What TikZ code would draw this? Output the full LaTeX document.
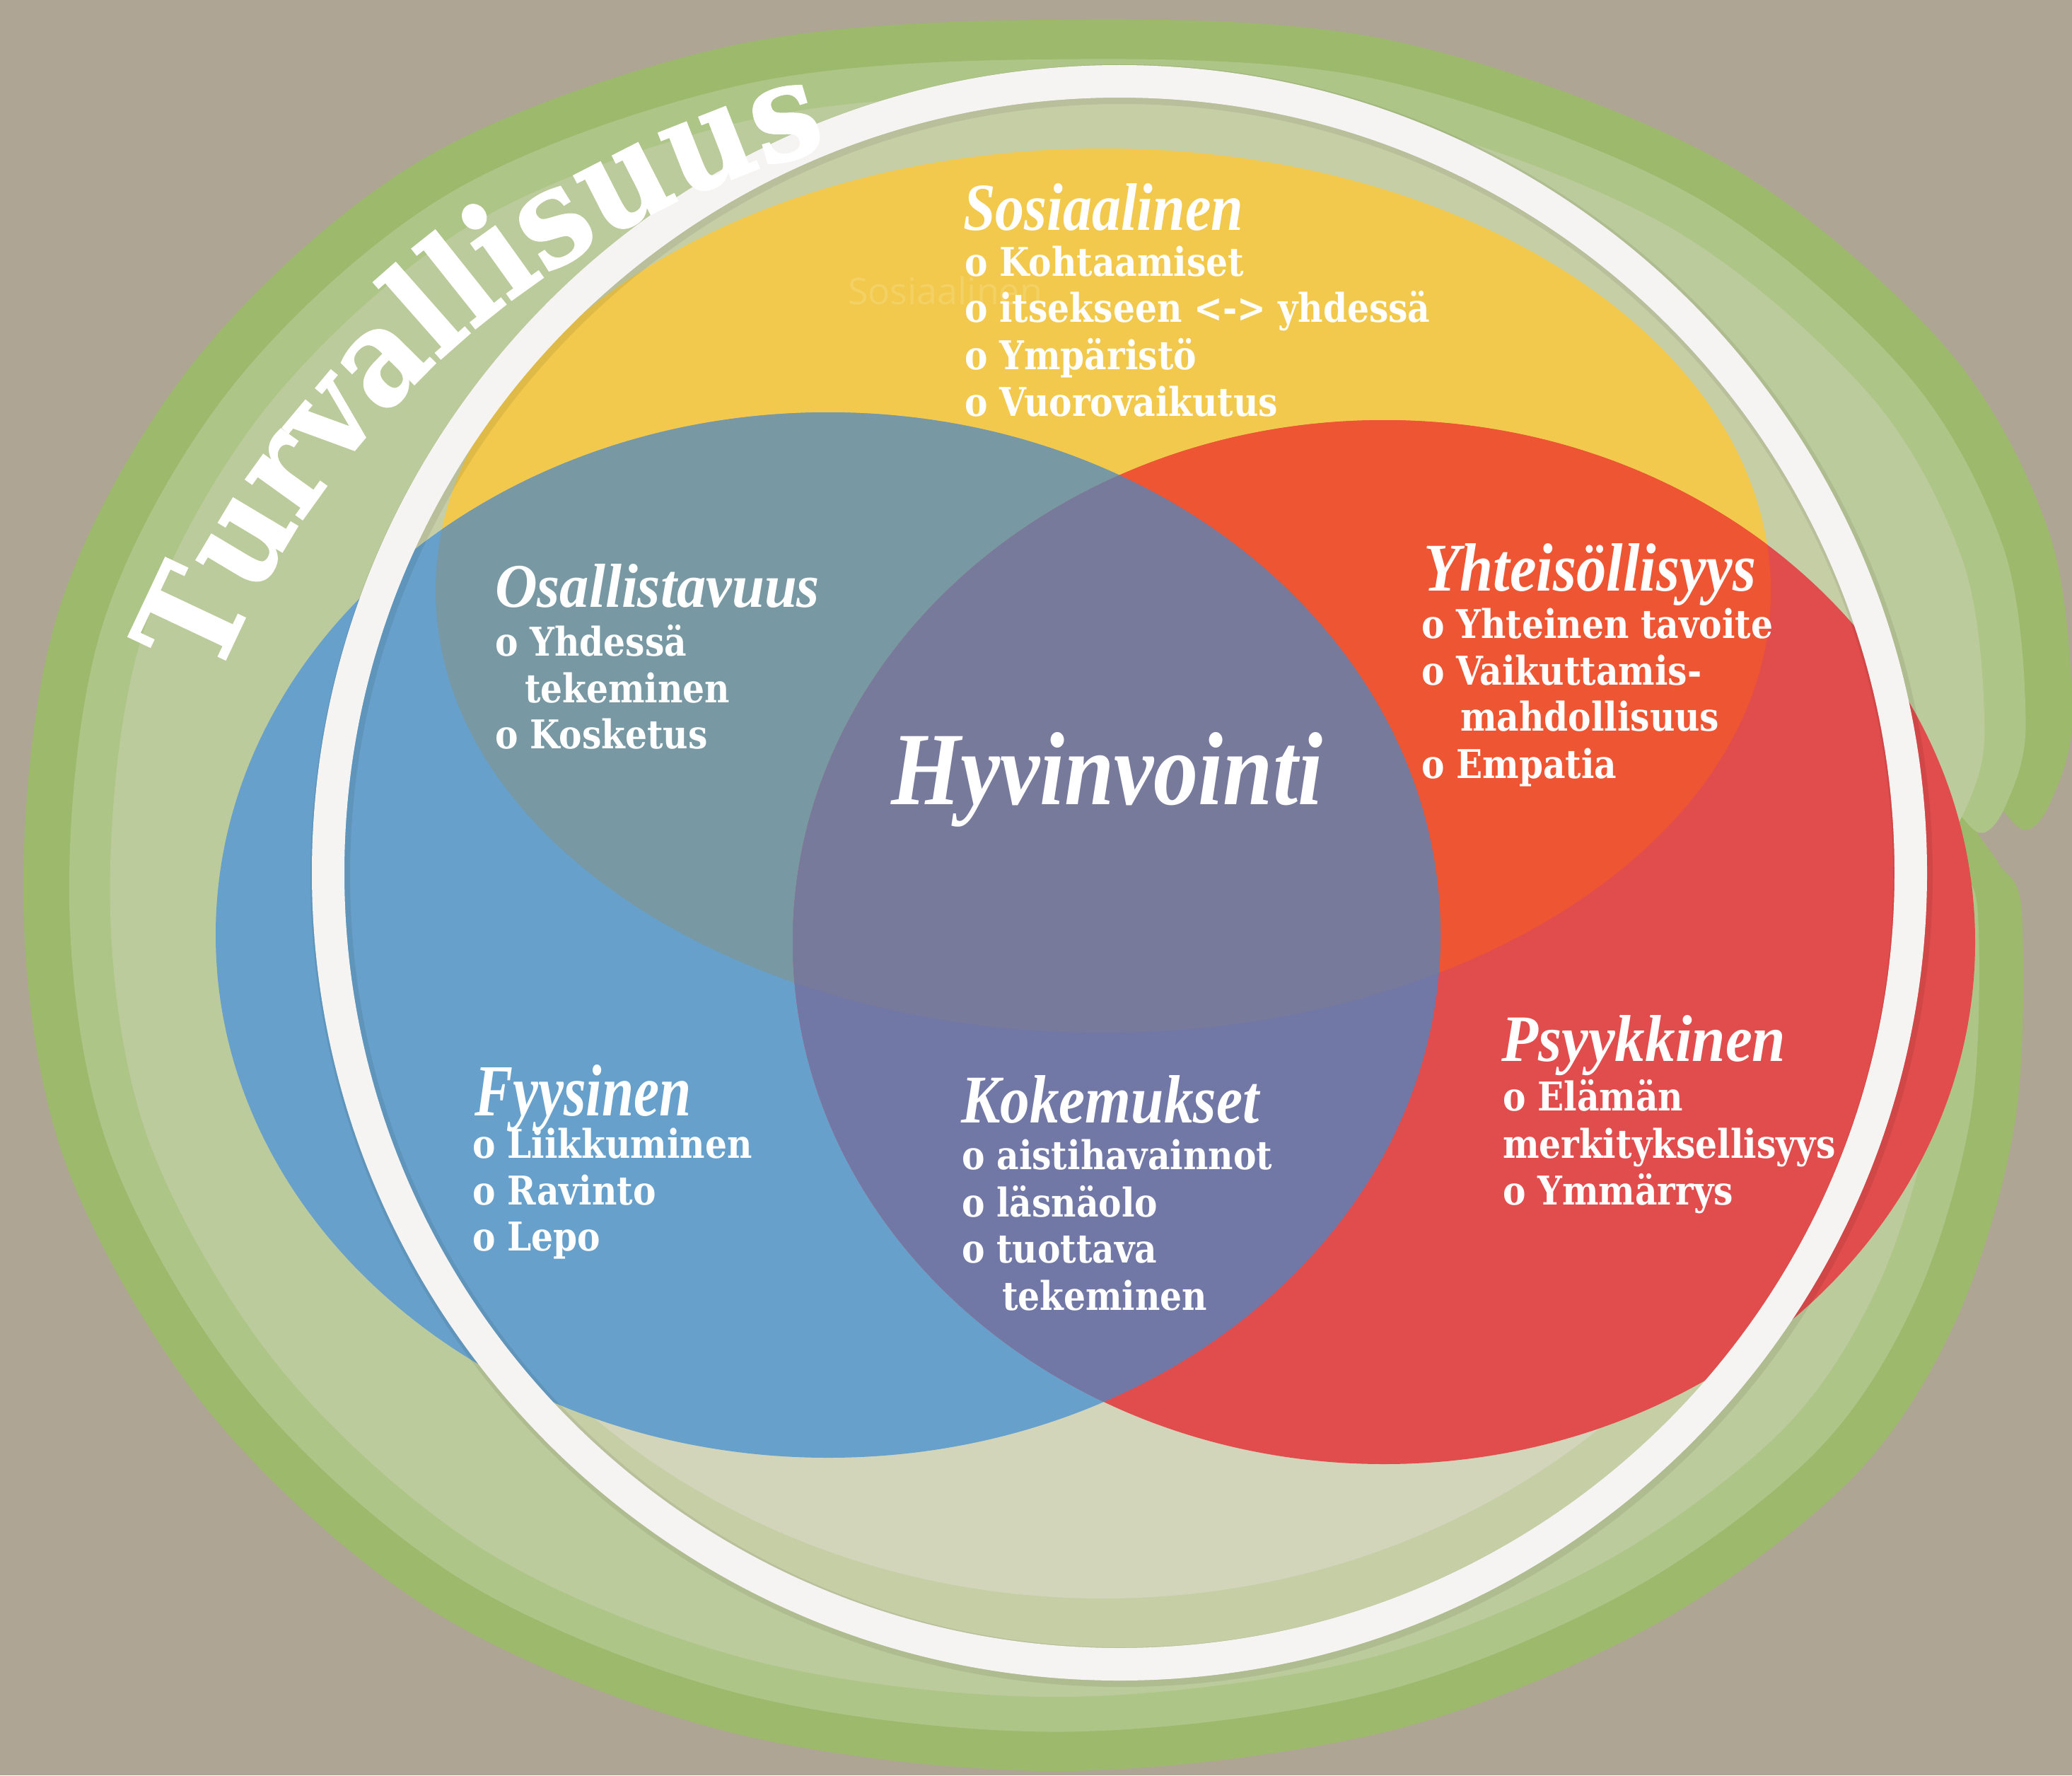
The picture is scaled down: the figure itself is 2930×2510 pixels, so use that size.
\documentclass[tikz,border=0pt]{standalone}
\usepackage{fontspec}
\usepackage{graphicx}
\usetikzlibrary{decorations.text}
\newfontfamily\bdyfont[FakeStretch=0.87]{DejaVu Serif}
\newfontfamily\scrfont{Liberation Serif}
\newfontfamily\ttlfont[FakeStretch=0.9, FakeBold=1]{DejaVu Serif}
\newfontfamily\ghfont{Open Sans}
\definecolor{bg}{HTML}{AFA595}
\definecolor{gA}{HTML}{9DB96C}
\definecolor{gB}{HTML}{AEC588}
\definecolor{gC}{HTML}{BCCB9C}
\definecolor{innerg}{HTML}{C6CEA6}
\definecolor{pale}{HTML}{D3D5BB}
\definecolor{ylw}{HTML}{F2C94C}
\definecolor{blu}{HTML}{67A0CA}
\definecolor{rd}{HTML}{E14D4D}
\definecolor{tealc}{HTML}{7899A3}
\definecolor{orng}{HTML}{EE5532}
\definecolor{purpB}{HTML}{7278A6}
\definecolor{purpC}{HTML}{787A9B}
\definecolor{ringc}{HTML}{F5F4F2}
\colorlet{ghostc}{ylw!86!white}
\newcommand\hdtext[3]{\resizebox{#1pt}{#2pt}{\scrfont\bfseries\itshape #3}}
\begin{document}
\begin{tikzpicture}[x=1pt,y=-1pt,
  body/.style={text=white, inner sep=0pt, outer sep=0pt, anchor=base west, font=\bdyfont\bfseries\fontsize{56}{60}\selectfont},
  head/.style={text=white, inner sep=0pt, outer sep=0pt, anchor=base west},
  ghost/.style={text=ghostc, inner sep=0pt, outer sep=0pt, anchor=base west, font=\ghfont\fontsize{52}{60}\selectfont}]
\useasboundingbox (0,0) rectangle (2930,2510);
\clip (0,0) rectangle (2930,2510);
\fill[bg] (0,0) rectangle (2930,2510);

% green blob layers
\foreach \s/\c in {1/gA, 0.955/gB, 0.915/gC}{
  \fill[\c, shift={(1476,1271)}, scale=\s] plot[smooth cycle, tension=0.55] coordinates {
    (0,-1243) (486,-1215) (953,-1046) (1271,-785) (1420,-523) (1454,-262)
    (1425,-140) (1385,-98) (1330,-160) (1300,-190) (1312,-110) (1350,-50) (1383,20)
    (1373,318) (1289,598) (1140,822) (860,1028) (486,1177) (19,1233)
    (-448,1177) (-860,1009) (-1177,729) (-1383,374) (-1443,0) (-1392,-411)
    (-1196,-766) (-878,-1046) (-448,-1205)};
}

% inner disk
\coordinate (Rc) at (1583,1234);
\fill[innerg] (Rc) circle[radius=1100pt];
\begin{scope}
  \clip (Rc) circle[radius=1100pt];
  \fill[pale] (1560,1300) ellipse[x radius=1060pt, y radius=960pt];
\end{scope}

% Venn ellipses
\coordinate (Yc) at (1560,835);
\coordinate (Bc) at (1171,1322);
\coordinate (Dc) at (1957,1332);
\fill[ylw] (Yc) ellipse[x radius=944pt, y radius=625pt];
\fill[blu] (Bc) ellipse[x radius=866pt, y radius=739pt];
\fill[rd] (Dc) ellipse[x radius=836pt, y radius=738pt];
\begin{scope}
  \clip (Yc) ellipse[x radius=944pt, y radius=625pt];
  \fill[tealc] (Bc) ellipse[x radius=866pt, y radius=739pt];
  \fill[orng] (Dc) ellipse[x radius=836pt, y radius=738pt];
\end{scope}
\begin{scope}
  \clip (Bc) ellipse[x radius=866pt, y radius=739pt];
  \fill[purpB] (Dc) ellipse[x radius=836pt, y radius=738pt];
  \clip (Yc) ellipse[x radius=944pt, y radius=625pt];
  \fill[purpC] (Dc) ellipse[x radius=836pt, y radius=738pt];
\end{scope}

% white ring
\draw[line width=56pt, black, opacity=0.07] (1586,1238) circle[radius=1119pt];
\draw[line width=46pt, ringc] (Rc) circle[radius=1119pt];

% title along arc
\path[decorate, decoration={text along path, text align=center, text color=white,
  text={|\ttlfont\bfseries\fontsize{190}{190}\selectfont|Turvallisuus}}]
  (1489,1448) ++(165:1278pt) arc[start angle=165, end angle=97, radius=1278pt];

% ghost text
\node[ghost] (gh) at (1199,430) {Sosiaalinen};

% headings
\node[head] (hs) at (1362,325) {\hdtext{396}{66}{Sosiaalinen}};
\node[head] (ho) at (700,858) {\hdtext{459}{61}{Osallistavuus}};
\node[head] (hy) at (2013,835) {\hdtext{470}{67}{Yhteisöllisyys}};
\node[head] (hp) at (2123,1500) {\hdtext{402}{65}{Psyykkinen}};
\node[head] (hf) at (671,1577) {\hdtext{306}{72}{Fyysinen}};
\node[head] (hk) at (1359,1587) {\hdtext{421}{67}{Kokemukset}};
\node[head] (hh) at (1260,1137) {\hdtext{610}{102}{Hyvinvointi}};

% Sosiaalinen
\node[body] (s1) at (1364,390) {o Kohtaamiset};
\node[body] (s2) at (1364,455) {o itsekseen <-> yhdessä};
\node[body] (s3) at (1364,522) {o Ympäristö};
\node[body] (s4) at (1364,588) {o Vuorovaikutus};
% Osallistavuus
\node[body] (o1) at (700,927) {o Yhdessä};
\node[body] (o2) at (742,993) {tekeminen};
\node[body] (o3) at (700,1058) {o Kosketus};
% Yhteisollisyys
\node[body] (y1) at (2010,902) {o Yhteinen tavoite};
\node[body] (y2) at (2010,968) {o Vaikuttamis-};
\node[body] (y3) at (2065,1033) {mahdollisuus};
\node[body] (y4) at (2010,1100) {o Empatia};
% Psyykkinen
\node[body] (p1) at (2125,1570) {o Elämän};
\node[body] (p2) at (2125,1637) {merkityksellisyys};
\node[body] (p3) at (2125,1703) {o Ymmärrys};
% Fyysinen
\node[body] (f1) at (668,1637) {o Liikkuminen};
\node[body] (f2) at (668,1703) {o Ravinto};
\node[body] (f3) at (668,1768) {o Lepo};
% Kokemukset
\node[body] (k1) at (1360,1653) {o aistihavainnot};
\node[body] (k2) at (1360,1720) {o läsnäolo};
\node[body] (k3) at (1360,1785) {o tuottava};
\node[body] (k4) at (1417,1852) {tekeminen};
\end{tikzpicture}
\end{document}
